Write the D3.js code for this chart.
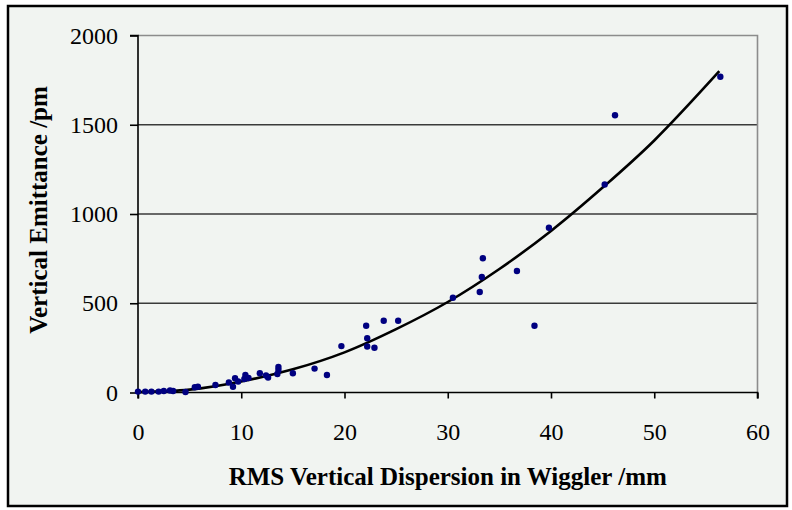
<!DOCTYPE html>
<html>
<head>
<meta charset="utf-8">
<script src="https://cdn.jsdelivr.net/npm/d3@7"></script>
<style>
  body { margin: 0; background: #fff; }
  text { font-family: "Liberation Serif", "Times New Roman", serif; fill: #000; }
</style>
</head>
<body>
<div id="chart"></div>
<script>
// Data
const dispersion = [0.0, 0.7, 1.3, 2.0, 2.5, 3.1, 3.4, 4.6, 5.5, 5.8, 7.5, 8.8, 9.2, 9.4, 9.7, 10.4, 10.3, 10.7,
  11.8, 12.4, 12.6, 13.5, 13.6, 13.6, 15.0, 17.1, 18.3, 19.7, 22.1, 22.2, 22.2, 22.9, 23.8, 25.2,
  30.5, 33.4, 33.3, 33.1, 36.7, 38.4, 39.8, 45.2, 46.2, 56.4]
const emittance = [5, 5, 5, 5, 8, 11, 8, 3, 29, 32, 42, 56, 32, 80, 62, 98, 76, 81,
  108, 95, 84, 104, 126, 143, 108, 134, 98, 260, 374, 304, 258, 251, 402, 402,
  531, 752, 647, 563, 681, 374, 923, 1165, 1553, 1769]

// trend line
const trendX = [0, 5, 10, 15, 20, 25, 30, 35, 40, 45, 50, 56.3]
const trendY = [2, 16, 62, 130, 225, 355, 507, 692, 905, 1148, 1412, 1800]

const xTicks = [0, 10, 20, 30, 40, 50, 60]
const yTicks = [0, 500, 1000, 1500, 2000]

function draw() {
  const dimensions = {
    width: 792,
    height: 510,
    left: 138,
    right: 757.5,
    top: 35.5,
    bottom: 392.5
  }

  const svg = d3.select('#chart')
    .append('svg')
    .attr('width', dimensions.width)
    .attr('height', dimensions.height)

  // frame
  svg.append('rect')
    .attr('x', 8).attr('y', 6)
    .attr('width', 779).attr('height', 500)
    .attr('fill', '#f1f4f1')
    .attr('stroke', '#000')
    .attr('stroke-width', 2.5)

  // Scales
  const xScale = d3.scaleLinear()
    .domain([0, 60])
    .range([dimensions.left, dimensions.right])
  const yScale = d3.scaleLinear()
    .domain([0, 2000])
    .range([dimensions.bottom, dimensions.top])

  // gridlines
  svg.append('g')
    .selectAll('line')
    .data(yTicks.filter(d => d > 0 && d < 2000))
    .join('line')
    .attr('x1', dimensions.left).attr('x2', dimensions.right)
    .attr('y1', d => yScale(d)).attr('y2', d => yScale(d))
    .attr('stroke', '#3a3a3a')
    .attr('stroke-width', 1.6)

  // plot border top/right (grey)
  svg.append('path')
    .attr('d', `M${dimensions.left},${dimensions.top}H${dimensions.right}V${dimensions.bottom}`)
    .attr('fill', 'none')
    .attr('stroke', '#8c8c8c')
    .attr('stroke-width', 1.6)

  // Axes
  const xAxis = d3.axisBottom(xScale).tickValues(xTicks).tickSize(6).tickPadding(24)
  const yAxis = d3.axisLeft(yScale).tickValues(yTicks).tickSize(8).tickPadding(12)
    .tickFormat(d3.format('d'))

  const xg = svg.append('g')
    .attr('transform', `translate(0, ${dimensions.bottom})`)
    .call(xAxis)
  const yg = svg.append('g')
    .attr('transform', `translate(${dimensions.left}, 0)`)
    .call(yAxis)

  ;[xg, yg].forEach(g => {
    g.select('.domain').attr('stroke', '#000').attr('stroke-width', 1.6)
    g.selectAll('.tick line').attr('stroke', '#000').attr('stroke-width', 1.6)
    g.selectAll('.tick text')
      .attr('font-family', '"Liberation Serif", serif')
      .attr('font-size', 24)
      .attr('fill', '#000')
  })
  xg.select('.domain').attr('d', `M${dimensions.left},6V0H${dimensions.right}V6`)
  yg.select('.domain').attr('d', `M-8,${dimensions.top}H0V${dimensions.bottom}`)

  // trend line
  const line = d3.line()
    .x((d, i) => xScale(trendX[i]))
    .y(d => yScale(d))
    .curve(d3.curveCatmullRom)
  svg.append('path')
    .datum(trendY)
    .attr('d', line)
    .attr('fill', 'none')
    .attr('stroke', '#000')
    .attr('stroke-width', 2.6)

  // points
  svg.append('g')
    .selectAll('circle')
    .data(dispersion)
    .join('circle')
    .attr('cx', d => xScale(d))
    .attr('cy', (d, i) => yScale(emittance[i]))
    .attr('r', 3.2)
    .attr('fill', '#000080')

  // axis titles
  svg.append('text')
    .attr('x', (dimensions.left + dimensions.right) / 2)
    .attr('y', 485)
    .attr('text-anchor', 'middle')
    .attr('font-size', 25)
    .attr('font-weight', 'bold')
    .text('RMS Vertical Dispersion in Wiggler /mm')

  svg.append('text')
    .attr('transform', `translate(47, ${(dimensions.top + dimensions.bottom) / 2 - 4}) rotate(-90)`)
    .attr('text-anchor', 'middle')
    .attr('font-size', 25)
    .attr('font-weight', 'bold')
    .text('Vertical Emittance /pm')
}

draw()
</script>
</body>
</html>
